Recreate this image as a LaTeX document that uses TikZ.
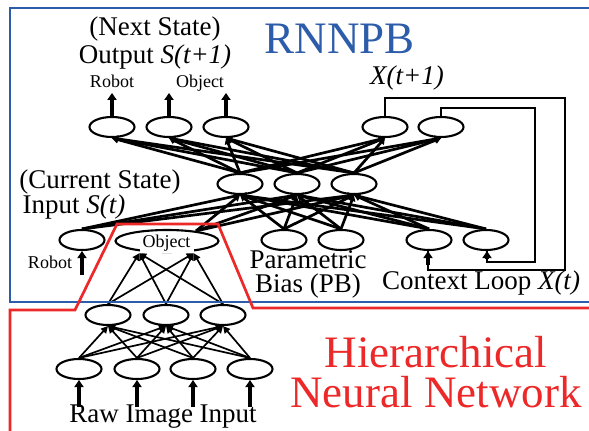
\documentclass[tikz,border=0pt]{standalone}
\usepackage{fontspec}
\setmainfont{Liberation Serif}
\usetikzlibrary{shapes.geometric,arrows.meta}
\definecolor{rnnblue}{RGB}{44,92,170}
\definecolor{hnnred}{RGB}{236,40,40}
\begin{document}
\begin{tikzpicture}[x=1pt,y=-1pt,
  unit/.style={ellipse,draw,line width=2.1pt,minimum width=45pt,minimum height=20pt,inner sep=0pt},
  conn/.style={line width=2.7pt,-{Triangle[width=7pt,length=6pt]}},
  hconn/.style={line width=1.7pt,-{Triangle[width=7pt,length=7pt]}},
  io/.style={line width=3.4pt,-{Triangle[width=9pt,length=7pt]}},
  loopline/.style={line width=2.3pt},
  frame/.style={line width=2.7pt},
  lbl/.style={font=\fontsize{27}{24}\selectfont,anchor=base,inner sep=0pt},
  smalllbl/.style={font=\fontsize{18}{18}\selectfont,anchor=base,inner sep=0pt},
  biglbl/.style={font=\fontsize{45}{40}\selectfont,anchor=base,inner sep=0pt}]
\useasboundingbox (0,0) rectangle (589,431);
\clip (0,0) rectangle (589,431);

% ---------- RNNPB units ----------
\node[unit] (o1) at (112,127) {};
\node[unit] (o2) at (169,127) {};
\node[unit] (o3) at (226,127) {};
\node[unit] (x1) at (385,127) {};
\node[unit] (x2) at (441,127) {};

\node[unit] (h1) at (240,184) {};
\node[unit] (h2) at (297,184) {};
\node[unit] (h3) at (354,184) {};

\node[unit] (ir) at (82,240) {};
\node[unit,minimum width=103pt,minimum height=22pt] (obj) at (167,241) {};
\node[unit] (p1) at (284,240) {};
\node[unit] (p2) at (341,240) {};
\node[unit] (c1) at (429,240) {};
\node[unit] (c2) at (486,240) {};
\coordinate (objtop) at (196,231);

% ---------- hierarchical network units ----------
\node[unit] (m1) at (108,315) {};
\node[unit] (m2) at (166,315) {};
\node[unit] (m3) at (223,315) {};

\node[unit] (b1) at (79,369) {};
\node[unit] (b2) at (137,369) {};
\node[unit] (b3) at (193,369) {};
\node[unit] (b4) at (250,369) {};

% ---------- RNNPB connections ----------
\foreach \s in {ir.north,objtop,p1.north,p2.north,c1.north,c2.north}
  \foreach \t in {h1,h2,h3}
    \draw[conn] (\s) -- (\t.south);
\foreach \s in {h1,h2,h3}
  \foreach \t in {o1,o2,o3,x1,x2}
    \draw[conn] (\s.north) -- (\t.south);

% output arrows
\foreach \n in {o1,o2,o3} {
  \coordinate (\n up) at ([yshift=23pt]\n.north);
  \draw[io] (\n.north) -- (\n up);
}

% robot input arrow
\coordinate (robin) at (82,275);
\draw[io] (robin) -- (ir.south);

% context loop
\coordinate (la) at (565,98);
\coordinate (lb) at (565,270);
\coordinate (lc) at (535,108);
\coordinate (ld) at (535,262);
\draw[loopline] (x1.north) |- (la) -- (lb) -| ([xshift=-1pt]c1.south);
\draw[io] ([xshift=-1pt,yshift=-14pt]c1.south) -- ([xshift=-1pt]c1.south);
\draw[loopline] (x2.north) |- (lc) -- (ld) -| ([xshift=1pt]c2.south);
\draw[io] ([xshift=1pt,yshift=-8pt]c2.south) -- ([xshift=1pt]c2.south);

% ---------- hierarchical connections ----------
\foreach \s in {b1,b2,b3,b4}
  \foreach \t in {m1,m2,m3}
    \draw[hconn] (\s.north) -- (\t.south);
\node[smalllbl,anchor=center,fill=white,inner sep=1pt,minimum width=54pt,minimum height=20pt] (objlbl) at (166.5,243) {Object};
\foreach \s in {m1,m2,m3}
  \foreach \t in {objlbl.south west,objlbl.south east}
    \draw[hconn] (\s.north) -- (\t);

\foreach \n in {b1,b2,b3,b4} {
  \coordinate (\n in) at ([yshift=-27pt]\n.south);
  \draw[io] (\n in) -- (\n.south);
}

% ---------- labels ----------
\node[lbl] (ns) at (155,35) {(Next State)};
\node[lbl] (ou) at (155,63) {Output \textit{S(t+1)}};
\node[smalllbl] (rl1) at (112,87) {Robot};
\node[smalllbl] (ol1) at (200,87) {Object};
\node[lbl] (xl) at (407,84) {\textit{X(t+1)}};
\node[lbl] (cs) at (100,188) {(Current State)};
\node[lbl] (inl) at (74,213) {Input \textit{S(t)}};
\node[smalllbl] (rl2) at (50,268) {Robot};
\node[lbl,align=center,anchor=base] (pb) at (308,292) {Parametric\\Bias (PB)};
\node[lbl] (cl) at (481,289) {Context Loop \textit{X(t)}};
\node[lbl] (raw) at (163,422) {Raw Image Input};
\node[biglbl,text=rnnblue] (rt) at (340,53) {RNNPB};
\node[biglbl,text=hnnred,align=center,anchor=base] (ht) at (436,407) {Hierarchical\\Neural Network};

% ---------- frames ----------
\draw[frame,rnnblue] (600,8) -- (10,8) -- (10,302) -- (600,302);
\draw[frame,hnnred] (600,308) -- (253,308) -- (218,224) -- (117,224) -- (75,310) -- (10,310) -- (10,440);
\end{tikzpicture}
\end{document}
